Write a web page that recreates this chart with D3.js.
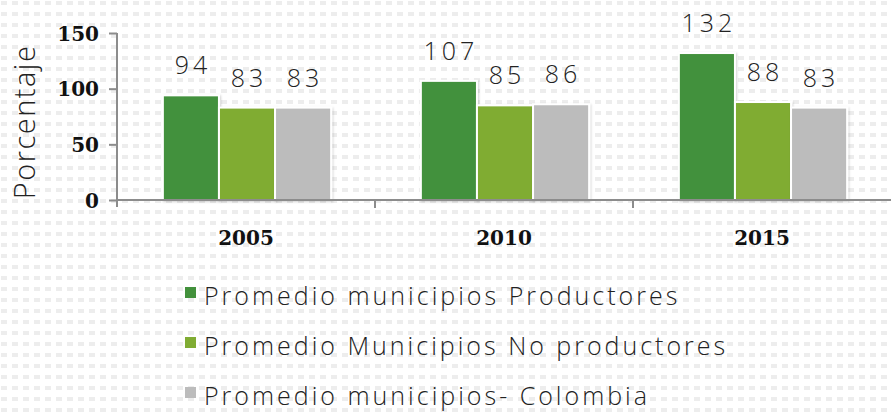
<!DOCTYPE html>
<html>
<head>
<meta charset="utf-8">
<script src="https://cdn.jsdelivr.net/npm/d3@7"></script>
<style>
  html, body { margin: 0; padding: 0; background: #fff; }
  svg { display: block; }
</style>
</head>
<body>
<div id="chart"></div>
<script>
const years = ['2005', '2010', '2015']
const seriesNames = [
  'Promedio municipios Productores',
  'Promedio Municipios No productores',
  'Promedio municipios- Colombia'
]
const productores = [94, 107, 132]
const noProductores = [83, 85, 88]
const colombia = [83, 86, 83]
const yTicks = [0, 50, 100, 150]
const colors = ['#43913c', '#80ac33', '#bcbcbc']

const width = 891
const height = 412
const margin = { left: 117, top: 33, bottom: 200 }

const seriesValues = [productores, noProductores, colombia]
const data = years.map((year, i) => ({
  year,
  values: seriesNames.map((name, j) => ({ name, value: seriesValues[j][i], idx: j }))
}))

const svg = d3.select('#chart')
  .append('svg')
  .attr('width', width)
  .attr('height', height)

const defs = svg.append('defs')
const pattern = defs.append('pattern')
  .attr('id', 'dots')
  .attr('patternUnits', 'userSpaceOnUse')
  .attr('width', 11)
  .attr('height', 11)
  .attr('x', 1)
  .attr('y', 1)
pattern.append('rect')
  .attr('width', 6).attr('height', 4)
  .attr('fill', '#ededed')

const shadow = defs.append('filter')
  .attr('id', 'shadow')
  .attr('x', '-10%').attr('y', '-10%')
  .attr('width', '130%').attr('height', '130%')
shadow.append('feDropShadow')
  .attr('dx', 1).attr('dy', 1)
  .attr('stdDeviation', 1.2)
  .attr('flood-color', '#000')
  .attr('flood-opacity', 0.18)

svg.append('rect')
  .attr('width', width).attr('height', height)
  .attr('fill', 'url(#dots)')

const x0 = d3.scaleBand()
  .domain(years)
  .range([margin.left, width])
  .padding(0)

const x1 = d3.scaleBand()
  .domain(seriesNames)
  .range([0, x0.bandwidth()])
  .paddingInner(0)
  .paddingOuter(0.8)

const y = d3.scaleLinear()
  .domain([0, 150])
  .range([margin.bottom, margin.top])

// bars
const groups = svg.append('g')
  .selectAll('g')
  .data(data)
  .enter()
  .append('g')
  .attr('transform', d => `translate(${x0(d.year) + 1}, 0)`)

groups.selectAll('rect')
  .data(d => d.values)
  .enter()
  .append('rect')
  .attr('x', d => x1(d.name))
  .attr('y', d => y(d.value))
  .attr('width', x1.bandwidth())
  .attr('height', d => y(0) - y(d.value))
  .attr('fill', d => colors[d.idx])
  .attr('stroke', '#fff')
  .attr('stroke-width', 2)
  .attr('filter', 'url(#shadow)')

groups.selectAll('text')
  .data(d => d.values)
  .enter()
  .append('text')
  .attr('x', d => x1(d.name) + x1.bandwidth() / 2 + 2)
  .attr('y', d => y(d.value) - 21)
  .attr('text-anchor', 'middle')
  .attr('font-family', '"Open Sans", sans-serif')
  .attr('font-weight', 300)
  .attr('font-size', '25px')
  .attr('letter-spacing', '4px')
  .attr('fill', '#222')
  .text(d => d.value)

// y axis
const yAxis = svg.append('g')
  .attr('transform', `translate(${margin.left}, 0)`)
  .call(d3.axisLeft(y).tickValues(yTicks).tickSize(8).tickPadding(10).tickSizeOuter(0))
yAxis.select('.domain')
  .attr('d', `M0,${margin.top}V${y(0) + 7}`)
yAxis.selectAll('.domain, .tick line')
  .attr('stroke', '#8c8c8c')
  .attr('stroke-width', 2)
yAxis.selectAll('.tick text')
  .attr('font-family', '"DejaVu Serif", serif')
  .attr('font-weight', 'bold')
  .attr('font-size', '20px')
  .attr('fill', '#111')
  .attr('dy', '0.35em')

// x axis
const xAxis = svg.append('g')
  .attr('transform', `translate(0, ${y(0)})`)
xAxis.append('line')
  .attr('x1', margin.left).attr('x2', width)
  .attr('stroke', '#8c8c8c').attr('stroke-width', 2)
xAxis.selectAll('.sep')
  .data(years.slice(1))
  .enter()
  .append('line')
  .attr('class', 'sep')
  .attr('x1', d => x0(d)).attr('x2', d => x0(d))
  .attr('y1', 0).attr('y2', 8)
  .attr('stroke', '#8c8c8c').attr('stroke-width', 2)
xAxis.selectAll('.lbl')
  .data(years)
  .enter()
  .append('text')
  .attr('class', 'lbl')
  .attr('x', d => x0(d) + x0.bandwidth() / 2)
  .attr('y', 45)
  .attr('text-anchor', 'middle')
  .attr('font-family', '"DejaVu Serif", serif')
  .attr('font-weight', 'bold')
  .attr('font-size', '20px')
  .attr('fill', '#111')
  .text(d => d)

// y title
svg.append('text')
  .attr('transform', `translate(35, 122) rotate(-90)`)
  .attr('text-anchor', 'middle')
  .attr('font-family', '"Open Sans", sans-serif')
  .attr('font-weight', 300)
  .attr('font-size', '29px')
  .attr('letter-spacing', '1.5px')
  .attr('fill', '#222')
  .text('Porcentaje')

// legend
const legend = svg.append('g')
  .attr('transform', 'translate(185, 0)')
const items = legend.selectAll('g')
  .data(seriesNames)
  .enter()
  .append('g')
  .attr('transform', (d, i) => `translate(0, ${305 + i * 50})`)
items.append('rect')
  .attr('y', -18)
  .attr('width', 11).attr('height', 11)
  .attr('fill', (d, i) => colors[i])
items.append('text')
  .attr('x', 19)
  .attr('font-family', '"Open Sans", sans-serif')
  .attr('font-weight', 300)
  .attr('font-size', '25px')
  .attr('letter-spacing', '3px')
  .attr('fill', '#222')
  .text(d => d)
</script>
</body>
</html>
